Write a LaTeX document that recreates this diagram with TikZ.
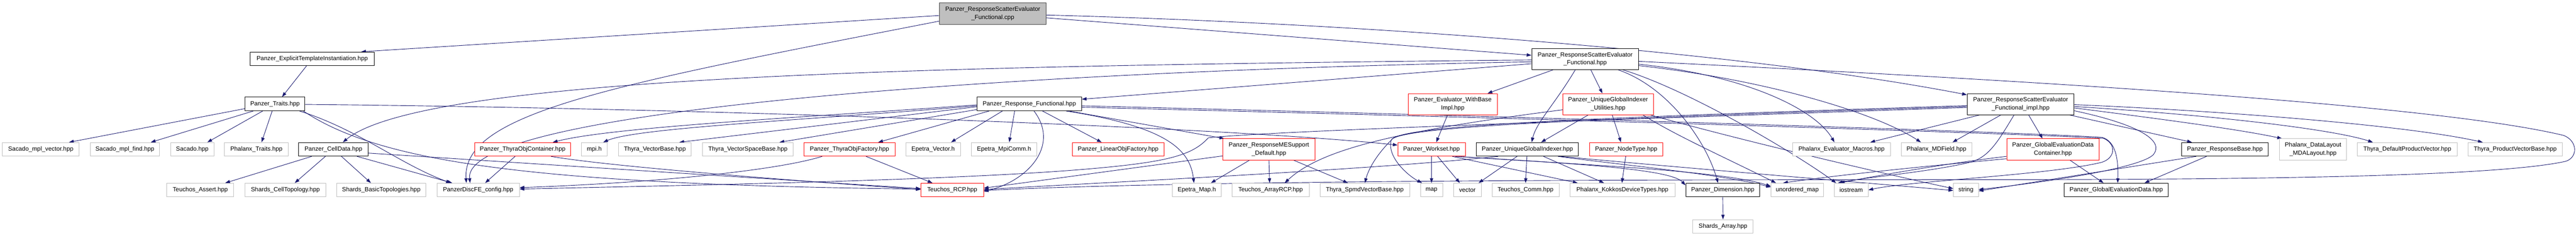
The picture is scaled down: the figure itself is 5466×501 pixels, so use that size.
\documentclass[tikz,border=0pt]{standalone}
\usepackage{fontspec}
\setmainfont{Liberation Sans}
\usetikzlibrary{arrows.meta}
\definecolor{edgeblue}{HTML}{191970}
\definecolor{extgray}{HTML}{BFBFBF}
\definecolor{rootfill}{HTML}{BFBFBF}
\definecolor{rootdraw}{HTML}{404040}
\pgfdeclarelayer{bg}
\pgfsetlayers{bg,main}
\begin{document}
\begin{tikzpicture}[x=1pt,y=-1pt,
 box/.style={draw, line width=1pt, minimum height=29pt, inner xsep=3pt, inner ysep=1pt, fill=white, align=center, font=\fontsize{12.9pt}{17pt}\selectfont},
 ext/.style={box, draw=extgray},
 blk/.style={box, draw=black},
 redb/.style={box, draw=red},
 root/.style={box, fill=rootfill, draw=rootdraw},
 two/.style={minimum height=45pt},
 edge/.style={draw=edgeblue, line width=1pt, -{Triangle[length=10pt,width=7pt]}},
]
\useasboundingbox (0,0) rectangle (5466,501);
% row 0-2
\node[root,two,minimum width=227] (cpp) at (2106.5,29) {Panzer\_ResponseScatterEvaluator\\\_Functional.cpp};
\node[blk,minimum width=263] (explicit) at (662.5,125) {Panzer\_ExplicitTemplateInstantiation.hpp};
\node[blk,two,minimum width=227] (rsefh) at (3363.5,125.5) {Panzer\_ResponseScatterEvaluator\\\_Functional.hpp};
\node[blk,minimum width=127] (traits) at (583.5,221) {Panzer\_Traits.hpp};
\node[blk,minimum width=222] (rf) at (2184,221) {Panzer\_Response\_Functional.hpp};
\node[redb,two,minimum width=189] (ewbi) at (3082.5,221.5) {Panzer\_Evaluator\_WithBase\\Impl.hpp};
\node[redb,two,minimum width=192] (util) at (3412,221.5) {Panzer\_UniqueGlobalIndexer\\\_Utilities.hpp};
\node[blk,two,minimum width=227] (impl) at (4287.5,221.5) {Panzer\_ResponseScatterEvaluator\\\_Functional\_impl.hpp};
% row 3
\node[ext,minimum width=163] (smv) at (86.5,317.5) {Sacado\_mpl\_vector.hpp};
\node[ext,minimum width=146] (smf) at (265,317.5) {Sacado\_mpl\_find.hpp};
\node[ext,minimum width=92] (sacado) at (408,317.5) {Sacado.hpp};
\node[ext,minimum width=136] (phtraits) at (544,317.5) {Phalanx\_Traits.hpp};
\node[blk,minimum width=147] (celldata) at (707.5,317.5) {Panzer\_CellData.hpp};
\node[redb,minimum width=204] (toc) at (1109,317.5) {Panzer\_ThyraObjContainer.hpp};
\node[ext,minimum width=54] (mpi) at (1261,317.5) {mpi.h};
\node[ext,minimum width=155] (tvb) at (1389.5,317.5) {Thyra\_VectorBase.hpp};
\node[ext,minimum width=192] (tvsb) at (1587,317.5) {Thyra\_VectorSpaceBase.hpp};
\node[redb,minimum width=193] (tof) at (1802.5,317.5) {Panzer\_ThyraObjFactory.hpp};
\node[ext,minimum width=116] (evec) at (1980,317.5) {Epetra\_Vector.h};
\node[ext,minimum width=139] (empi) at (2130.5,317.5) {Epetra\_MpiComm.h};
\node[redb,minimum width=195] (lof) at (2372.5,317.5) {Panzer\_LinearObjFactory.hpp};
\node[redb,two,minimum width=195] (mes) at (2692.5,317.5) {Panzer\_ResponseMESupport\\\_Default.hpp};
\node[redb,minimum width=143] (workset) at (3037.5,317.5) {Panzer\_Workset.hpp};
\node[blk,minimum width=216] (ugi) at (3241,317.5) {Panzer\_UniqueGlobalIndexer.hpp};
\node[redb,minimum width=155] (nodetype) at (3450.5,317.5) {Panzer\_NodeType.hpp};
\node[ext,minimum width=207] (pem) at (3907.5,317.5) {Phalanx\_Evaluator\_Macros.hpp};
\node[ext,minimum width=150] (mdf) at (4109,317.5) {Phalanx\_MDField.hpp};
\node[redb,two,minimum width=196] (gedc) at (4356,317.5) {Panzer\_GlobalEvaluationData\\Container.hpp};
\node[blk,minimum width=184] (rbase) at (4721,317.5) {Panzer\_ResponseBase.hpp};
\node[ext,two,minimum width=142] (mdal) at (4908,317.5) {Phalanx\_DataLayout\\\_MDALayout.hpp};
\node[ext,minimum width=212] (tdpv) at (5108,317.5) {Thyra\_DefaultProductVector.hpp};
\node[ext,minimum width=200] (tpvb) at (5337,317.5) {Thyra\_ProductVectorBase.hpp};
% row 4
\node[ext,minimum width=142] (tassert) at (425,404) {Teuchos\_Assert.hpp};
\node[ext,minimum width=171] (sct) at (605.5,404) {Shards\_CellTopology.hpp};
\node[ext,minimum width=190] (sbt) at (809,404) {Shards\_BasicTopologies.hpp};
\node[ext,minimum width=175] (config) at (1014.5,404) {PanzerDiscFE\_config.hpp};
\node[redb,minimum width=133] (rcp) at (2020.5,404) {Teuchos\_RCP.hpp};
\node[ext,minimum width=103] (emap) at (2539.5,404) {Epetra\_Map.h};
\node[ext,minimum width=164] (arcp) at (2696,404) {Teuchos\_ArrayRCP.hpp};
\node[ext,minimum width=190] (spmd) at (2896,404) {Thyra\_SpmdVectorBase.hpp};
\node[ext,minimum width=47] (map) at (3037.5,404) {map};
\node[ext,minimum width=59] (vector) at (3113.5,404) {vector};
\node[ext,minimum width=142] (tcomm) at (3237,404) {Teuchos\_Comm.hpp};
\node[ext,minimum width=223] (kokkos) at (3442.5,404) {Phalanx\_KokkosDeviceTypes.hpp};
\node[blk,minimum width=157] (dim) at (3655.5,404) {Panzer\_Dimension.hpp};
\node[ext,minimum width=111] (umap) at (3813.5,404) {unordered\_map};
\node[ext,minimum width=72] (iostream) at (3928,404) {iostream};
\node[ext,minimum width=53] (string) at (4171.5,404) {string};
\node[blk,minimum width=221] (ged) at (4490.5,404) {Panzer\_GlobalEvaluationData.hpp};
% row 5
\node[ext,minimum width=128] (sarray) at (3656,481.5) {Shards\_Array.hpp};

\begin{pgfonlayer}{bg}
\fill[white] (0,0) rectangle (5466,501);
% cpp
\draw[edge] ([yshift=-4]cpp.west) -- ([xshift=104]explicit.north);
\draw[edge] ([yshift=-16]cpp.west) .. controls (1300,180) and (980,240) .. ([xshift=-25]config.north);
\draw[edge] ([yshift=-9]cpp.east) -- ([yshift=8]rsefh.west);
\draw[edge] ([yshift=-3]cpp.east) .. controls (2900,50) and (3700,110) .. ([yshift=20]impl.west);
% explicit, traits
\draw[edge] ([xshift=-12]explicit.south) -- ([xshift=15]traits.north);
\draw[edge] ([yshift=-10]traits.west) -- ([xshift=60]smv.north);
\draw[edge] ([xshift=-46]traits.south) -- ([xshift=55]smf.north);
\draw[edge] ([xshift=-26]traits.south) -- ([xshift=32]sacado.north);
\draw[edge] ([xshift=-6]traits.south) -- ([xshift=11]phtraits.north);
\draw[edge] ([yshift=-1]traits.east) .. controls (1500,230) and (2600,270) .. ([yshift=9]workset.west);
\draw[edge] ([xshift=52]traits.south) .. controls (760,275) and (850,350) .. ([xshift=-58]config.north);
\draw[edge] ([xshift=60]traits.south) .. controls (800,340) and (1100,392) .. ([yshift=2]rcp.west);
% celldata
\draw[edge] ([xshift=-46]celldata.south) -- ([xshift=53]tassert.north);
\draw[edge] ([xshift=-17]celldata.south) -- ([xshift=20]sct.north);
\draw[edge] ([xshift=17]celldata.south) -- ([xshift=-22]sbt.north);
\draw[edge] ([xshift=50]celldata.south) -- ([xshift=-55]config.north);
\draw[edge] ([yshift=-8]celldata.east) -- ([yshift=3]rcp.west);
% rsefh to the left
\draw[edge] ([yshift=-2]rsefh.west) .. controls (2000,140) and (900,160) .. ([xshift=20]celldata.north);
\draw[edge] ([yshift=-6]rsefh.west) .. controls (2200,150) and (980,230) .. ([xshift=-17]config.north);
\draw[edge] ([yshift=-10]rsefh.west) -- ([yshift=10]rf.east);
% rf
\draw[edge] ([yshift=-2]rf.west) .. controls (1700,250) and (1300,270) .. ([xshift=64]toc.north);
\draw[edge] ([yshift=-4]rf.west) .. controls (1700,256) and (1350,272) .. ([xshift=19]mpi.north);
\draw[edge] ([yshift=-6]rf.west) -- ([xshift=52]tvb.north);
\draw[edge] ([yshift=-12]rf.west) -- ([xshift=67]tvsb.north);
\draw[edge] ([xshift=-85]rf.south) -- ([xshift=61]tof.north);
\draw[edge] ([xshift=-57]rf.south) -- ([xshift=38]evec.north);
\draw[edge] ([xshift=-31]rf.south) -- ([xshift=11]empi.north);
\draw[edge] ([xshift=28]rf.south) -- ([xshift=-35]lof.north);
\draw[edge] ([xshift=84]rf.south) -- ([xshift=-95]mes.north);
\draw[edge] ([xshift=78]rf.south) .. controls (2480,270) and (2525,320) .. ([xshift=-6]emap.north);
\draw[edge] ([xshift=10]rf.south) .. controls (2250,310) and (2180,385) .. ([yshift=-3]rcp.east);
\draw[edge] ([yshift=-4]rf.east) .. controls (3500,255) and (4300,282) .. (4460,292) .. controls (4490,300) and (4495,340) .. ([xshift=3]ged.north);
\draw[edge] ([yshift=-7]rf.east) .. controls (3500,258) and (4300,285) .. (4463,294) .. controls (4490,305) and (4490,335) .. (4460,345) .. controls (4350,372) and (4050,385) .. (iostream.east);
% toc, tof
\draw[edge] ([xshift=-16]toc.south) -- ([xshift=15]config.north);
\draw[edge] ([xshift=60]toc.south) .. controls (1300,355) and (1700,385) .. ([yshift=1]rcp.west);
\draw[edge] ([xshift=35]tof.south) -- ([xshift=-42]rcp.north);
\draw[edge] ([xshift=-58]tof.south) .. controls (1650,362) and (1400,388) .. ([yshift=5]config.east);
% mes
\draw[edge] ([xshift=-41]mes.south) -- ([xshift=30]emap.north);
\draw[edge] (mes.south) -- ([xshift=-2]arcp.north);
\draw[edge] ([xshift=52]mes.south) -- ([xshift=-36]spmd.north);
\draw[edge] ([yshift=-14]mes.west) -- ([yshift=4]rcp.east);
% workset, ewbi
\draw[edge] (workset.south) -- (map.north);
\draw[edge] ([xshift=13]workset.south) -- ([xshift=-16]vector.north);
\draw[edge] ([xshift=44]workset.south) -- ([xshift=-95]kokkos.north);
\draw[edge] ([xshift=50]workset.south) .. controls (3350,348) and (3545,360) .. ([yshift=10]dim.west);
\draw[edge] ([xshift=52]workset.south) .. controls (3350,350) and (3650,362) .. ([yshift=8]umap.west);
\draw[edge] ([xshift=-11]ewbi.south) -- ([xshift=10]workset.north);
% rsefh downwards
\draw[edge] ([xshift=-68]rsefh.south) -- ([xshift=74]ewbi.north);
\draw[edge] ([xshift=12]rsefh.south) -- ([xshift=-12]util.north);
\draw[edge] ([xshift=-21]rsefh.south) .. controls (3300,220) and (3260,260) .. ([xshift=9]ugi.north);
\draw[edge] ([yshift=-11]rsefh.east) .. controls (3700,160) and (3850,230) .. ([xshift=-15]pem.north);
\draw[edge] ([yshift=-14]rsefh.east) .. controls (3750,170) and (3980,240) .. ([xshift=-33]mdf.north);
\draw[edge] ([xshift=70]rsefh.south) .. controls (3540,185) and (3620,300) .. ([xshift=-10]dim.north);
\draw[edge] ([xshift=80]rsefh.south) .. controls (3580,190) and (3800,320) .. ([xshift=-32]iostream.north);
\draw[edge] ([yshift=-5]rsefh.east) .. controls (4500,180) and (5200,230) .. (5440,288) .. controls (5470,300) and (5470,335) .. (5444,343) .. controls (5300,375) and (4800,382) .. (4200,382) .. controls (3300,382) and (2500,385) .. ([yshift=-1]rcp.east);
% util
\draw[edge] ([xshift=-42]util.south) -- ([xshift=29]ugi.north);
\draw[edge] ([xshift=9]util.south) -- ([xshift=-11]nodetype.north);
\draw[edge] ([yshift=-12]util.west) .. controls (2950,280) and (2800,320) .. ([xshift=30]arcp.north);
\draw[edge] ([xshift=74]util.south) .. controls (3560,290) and (3650,330) .. ([xshift=-45]umap.north);
\draw[edge] ([xshift=90]util.south) .. controls (3700,300) and (4000,370) .. ([yshift=3]string.west);
% ugi, nodetype
\draw[edge] ([xshift=-22]ugi.south) -- ([xshift=24]vector.north);
\draw[edge] ([xshift=-1]ugi.south) -- (tcomm.north);
\draw[edge] ([xshift=34]ugi.south) -- ([xshift=-39]kokkos.north);
\draw[edge] ([xshift=-62]ugi.south) .. controls (2900,362) and (2300,390) .. ([yshift=1]rcp.east);
\draw[edge] ([xshift=65]ugi.south) .. controls (3450,352) and (3650,370) .. ([yshift=6]umap.west);
\draw[edge] ([xshift=70]ugi.south) .. controls (3550,355) and (3950,388) .. ([yshift=-1]string.west);
\draw[edge] ([xshift=-1]nodetype.south) -- ([xshift=-1]kokkos.north);
% impl
\draw[edge] ([yshift=-3]impl.west) .. controls (3400,250) and (2965,265) .. (2952,298) .. controls (2942,335) and (2990,375) .. ([xshift=-20]map.north);
\draw[edge] ([yshift=-5]impl.west) .. controls (3400,252) and (2965,268) .. (2952,298) .. controls (2925,325) and (2905,355) .. (spmd.north);
\draw[edge] ([yshift=-7]impl.west) .. controls (3500,252) and (2700,278) .. (2564,293) .. controls (2530,330) and (2480,345) .. (2300,360) .. controls (2000,385) and (1400,395) .. ([yshift=2]config.east);
\draw[edge] ([xshift=-87]impl.south) -- ([xshift=61]pem.north);
\draw[edge] ([xshift=-42]impl.south) -- ([xshift=34]mdf.north);
\draw[edge] ([xshift=-14]impl.south) .. controls (4240,300) and (4220,335) .. (4180,345) .. controls (4100,365) and (3950,378) .. ([xshift=-28]iostream.north);
\draw[edge] ([xshift=17]impl.south) -- ([xshift=-22]gedc.north);
\draw[edge] ([xshift=104]impl.south) -- ([xshift=-70]rbase.north);
\draw[edge] ([yshift=-8]impl.east) .. controls (4600,255) and (4750,275) .. ([xshift=-66]mdal.north);
\draw[edge] ([yshift=-5]impl.east) .. controls (4700,245) and (4950,275) .. ([xshift=-73]tdpv.north);
\draw[edge] ([yshift=-1]impl.east) .. controls (4700,235) and (5100,265) .. ([xshift=-69]tpvb.north);
\draw[edge] ([yshift=-14]impl.east) .. controls (4540,265) and (4595,300) .. (4568,330) .. controls (4530,362) and (4300,392) .. ([yshift=1]string.east);
% rbase, gedc, dim
\draw[edge] ([xshift=-39]rbase.south) -- ([xshift=60]ged.north);
\draw[edge] ([xshift=-61]rbase.south) -- ([yshift=-2]string.east);
\draw[edge] ([xshift=36]gedc.south) -- ([xshift=-27]ged.north);
\draw[edge] ([yshift=-15]gedc.west) .. controls (4150,345) and (4000,370) .. ([xshift=-24]iostream.north);
\draw[edge] ([yshift=-20]gedc.west) .. controls (4100,352) and (3900,372) .. ([xshift=-30]umap.north);
\draw[edge] (dim.south) -- (sarray.north);
\end{pgfonlayer}
\end{tikzpicture}
\end{document}
